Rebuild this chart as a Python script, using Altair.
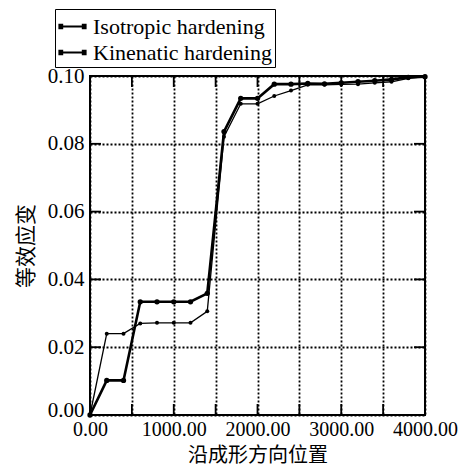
import altair as alt
import pandas as pd

# ---- data ----
positions = [0, 200, 400, 600, 800, 1000, 1200, 1400, 1600, 1800, 2000,
             2200, 2400, 2600, 2800, 3000, 3200, 3400, 3600, 3800, 4000]
isotropic = [0.0, 0.0102, 0.0102, 0.0334, 0.0334, 0.0334, 0.0334, 0.0359,
             0.0836, 0.0934, 0.0934, 0.0976, 0.0976, 0.0978, 0.0977, 0.0980,
             0.0983, 0.0986, 0.0990, 0.0996, 0.0998]
kinematic = [0.0, 0.0240, 0.0240, 0.0270, 0.0272, 0.0272, 0.0272, 0.0306,
             0.0821, 0.0918, 0.0918, 0.0941, 0.0957, 0.0974, 0.0974, 0.0975,
             0.0976, 0.0980, 0.0983, 0.0993, 0.0998]
series_names = ["Isotropic hardening", "Kinenatic hardening"]
x_ticks = [0, 500, 1000, 1500, 2000, 2500, 3000, 3500, 4000]
y_ticks = [0.0, 0.02, 0.04, 0.06, 0.08, 0.10]
x_title = "沿成形方向位置"
y_title = "等效应变"

rows = []
for xv, a, b in zip(positions, isotropic, kinematic):
    rows.append({"x": xv, "y": a, "series": series_names[0]})
    rows.append({"x": xv, "y": b, "series": series_names[1]})
df = pd.DataFrame(rows)

W, H = 335, 339
TICK = 11
SERIF = "Liberation Serif"
CJK = "Noto Sans CJK SC"

xscale = alt.Scale(domain=[0, 4000], nice=False, zero=False)
yscale = alt.Scale(domain=[0, 0.1], nice=False)

x_axis = alt.Axis(values=x_ticks, format=".2f",
                  labelExpr="datum.value % 1000 == 0 ? format(datum.value, '.2f') : ''",
                  ticks=False, domain=False, grid=True, gridDash=[2, 2],
                  gridColor="black", gridWidth=1.8, gridOpacity=1,
                  labelFont=SERIF, labelFontSize=20, labelColor="black",
                  labelPadding=4, labelOverlap=False, labelBound=False, labelFlush=False,
                  title=x_title, titleFont=CJK, titleFontSize=20,
                  titleFontWeight="normal", titleColor="black", titlePadding=6)
y_axis = alt.Axis(values=y_ticks, format=".2f",
                  ticks=False, domain=False, grid=True, gridDash=[2, 2],
                  gridColor="black", gridWidth=1.8, gridOpacity=1,
                  labelFont=SERIF, labelFontSize=21, labelColor="black",
                  labelPadding=6, labelOverlap=False, labelBound=False,
                  labelOffset={"condition": {"test": "datum.value == 0", "value": -5}, "value": 0},
                  title=y_title, titleFont=CJK, titleFontSize=21,
                  titleFontWeight="normal", titleColor="black", titlePadding=11)

color = alt.Color("series:N",
                  scale=alt.Scale(domain=series_names, range=["black", "black"]),
                  legend=alt.Legend(title=None, orient="none", legendX=-35, legendY=-67,
                                    labelFont=SERIF, labelFontSize=22, labelColor="black",
                                    labelLimit=400,
                                    symbolType="M-1,0L1,0M-1,-0.12L-0.8,-0.12L-0.8,0.12L-1,0.12ZM0.8,-0.12L1,-0.12L1,0.12L0.8,0.12Z",
                                    symbolSize=676, symbolStrokeWidth=2.2,
                                    symbolFillColor="black", symbolStrokeColor="black",
                                    labelOffset=6, rowPadding=0, padding=3,
                                    strokeColor="black", fillColor="white"))

grid = alt.Chart(pd.DataFrame({"x": [0], "y": [0]})).mark_point(opacity=0).encode(
    x=alt.X("x:Q", scale=xscale, axis=x_axis),
    y=alt.Y("y:Q", scale=yscale, axis=y_axis),
)

xt = pd.DataFrame({"x": x_ticks[1:-1]})
yt = pd.DataFrame({"y": y_ticks[1:-1]})
tick_style = dict(color="black", strokeWidth=1.8)
bottom_ticks = alt.Chart(xt).mark_rule(**tick_style).encode(
    x=alt.X("x:Q", scale=xscale), y=alt.value(H), y2=alt.value(H - TICK))
top_ticks = alt.Chart(xt).mark_rule(**tick_style).encode(
    x=alt.X("x:Q", scale=xscale), y=alt.value(0), y2=alt.value(TICK))
left_ticks = alt.Chart(yt).mark_rule(**tick_style).encode(
    y=alt.Y("y:Q", scale=yscale), x=alt.value(0), x2=alt.value(TICK))
right_ticks = alt.Chart(yt).mark_rule(**tick_style).encode(
    y=alt.Y("y:Q", scale=yscale), x=alt.value(W), x2=alt.value(W - TICK))

base = alt.Chart(df)
xenc = alt.X("x:Q", scale=xscale)
yenc = alt.Y("y:Q", scale=yscale)

iso_line = base.transform_filter(alt.datum.series == series_names[0]).mark_line(
    strokeWidth=2.6).encode(x=xenc, y=yenc, color=color, order="x:Q")
kin_line = base.transform_filter(alt.datum.series == series_names[1]).mark_line(
    strokeWidth=1.3).encode(x=xenc, y=yenc, color=color, order="x:Q")
iso_pts = base.transform_filter(alt.datum.series == series_names[0]).mark_point(
    filled=True, opacity=1, color="black", size=28).encode(x=xenc, y=yenc)
kin_pts = base.transform_filter(alt.datum.series == series_names[1]).mark_point(
    filled=True, opacity=1, color="black", size=16).encode(x=xenc, y=yenc)

chart = alt.layer(grid, bottom_ticks, top_ticks, left_ticks, right_ticks,
                  iso_line, kin_line, iso_pts, kin_pts).properties(
    width=W, height=H,
    autosize=alt.AutoSizeParams(type="none"),
    padding={"left": 90, "top": 76, "right": 39, "bottom": 51},
    background="white",
).configure_view(stroke="black", strokeWidth=2)

chart.save("out.html", embed_options={"renderer": "svg", "actions": False})
